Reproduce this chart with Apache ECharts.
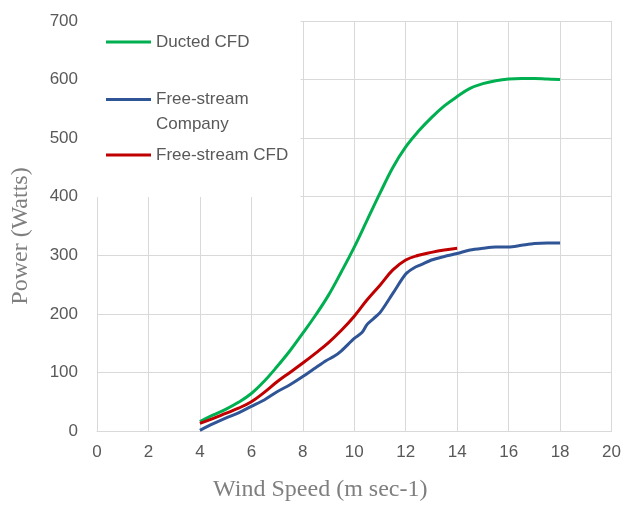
<!DOCTYPE html>
<html>
<head>
<meta charset="utf-8">
<script src="https://cdn.jsdelivr.net/npm/echarts@6/dist/echarts.min.js"></script>
<style>
html,body{margin:0;padding:0;background:#fff;}
#chart{width:624px;height:507px;}
</style>
</head>
<body>
<div id="chart"></div>
<script>
// ---- data ----
var seriesNames = ['Ducted CFD', 'Free-stream Company', 'Free-stream CFD'];

var ductedX = [4, 4.5, 5, 5.5, 6, 6.5, 7, 7.5, 8, 8.5, 9, 9.5, 10, 10.5, 11, 11.5, 12, 12.5, 13, 13.5, 14, 14.5, 15, 15.5, 16, 16.5, 17, 17.5, 18];
var ductedY = [16, 27, 37, 49, 64, 85, 110, 137, 167, 198, 232, 272, 314, 360, 406, 450, 485, 512, 535, 555, 571, 585, 593, 598, 601, 602, 602, 601, 600];

var companyX = [4, 4.5, 5, 5.5, 6, 6.5, 7, 7.5, 8, 8.5, 8.9, 9.2, 9.5, 10, 10.3, 10.5, 10.75, 11, 11.5, 12, 12.3, 12.6, 13, 13.5, 14, 14.5, 15, 15.5, 16, 16.5, 17, 17.5, 18];
var companyY = [1, 12, 22, 31, 42, 53, 67, 79, 93, 108, 120, 127, 137, 158, 168, 182, 192, 202, 235, 268, 278, 284, 292, 298, 303, 309, 312, 314, 314, 317, 320, 321, 321];

var freeCfdX = [4, 4.5, 5, 5.5, 6, 6.5, 7, 7.5, 8, 8.5, 9, 9.5, 10, 10.5, 11, 11.5, 12, 12.5, 13, 13.5, 14];
var freeCfdY = [13, 21, 30, 39, 50, 66, 84, 100, 116, 133, 151, 172, 196, 224, 249, 275, 292, 300, 305, 309, 312];

var xTicks = {min: 0, max: 20, interval: 2};
var yTicks = {min: 0, max: 700, interval: 100};

function pairs(xs, ys) {
  return xs.map(function (x, i) { return [x, ys[i]]; });
}

var chart = echarts.init(document.getElementById('chart'), null, {renderer: 'canvas'});

var labelFont = {fontFamily: '"Liberation Sans", Arial, sans-serif', fontSize: 17, color: '#595959'};
var titleFont = {fontFamily: '"Liberation Serif", "Times New Roman", serif', fontSize: 24, color: '#7f7f7f'};
var gridColor = '#d9d9d9';

var legendBase = {
  orient: 'vertical',
  icon: 'rect',
  itemWidth: 45,
  itemHeight: 3,
  itemGap: 0,
  selectedMode: false,
  textStyle: {fontFamily: labelFont.fontFamily, fontSize: 17, color: '#595959', lineHeight: 20}
};

var option = {
  animation: false,
  backgroundColor: '#fff',
  grid: {left: 97, right: 12, top: 21, bottom: 76, containLabel: false},
  xAxis: {
    type: 'value',
    min: xTicks.min, max: xTicks.max, interval: xTicks.interval,
    name: 'Wind Speed (m sec-1)',
    nameLocation: 'middle',
    nameGap: 47,
    nameTextStyle: Object.assign({padding: [0, 68, 0, 0]}, titleFont),
    axisLine: {show: true, lineStyle: {color: gridColor, width: 1}},
    axisTick: {show: false},
    axisLabel: Object.assign({margin: 13}, labelFont),
    splitLine: {show: true, lineStyle: {color: gridColor, width: 1}}
  },
  yAxis: {
    type: 'value',
    min: yTicks.min, max: yTicks.max, interval: yTicks.interval,
    name: 'Power (Watts)',
    nameLocation: 'middle',
    nameGap: 64,
    nameTextStyle: Object.assign({padding: [0, 20, 0, 0]}, titleFont),
    axisLine: {show: false},
    axisTick: {show: false},
    axisLabel: Object.assign({margin: 19}, labelFont),
    splitLine: {show: true, lineStyle: {color: gridColor, width: 1}}
  },
  legend: [
    Object.assign({}, legendBase, {
      data: [seriesNames[0]],
      left: 97, top: 21,
      padding: [11, 51, 145, 9],
      backgroundColor: '#ffffff',
      z: 4
    }),
    Object.assign({}, legendBase, {
      data: [seriesNames[1]],
      left: 106, top: 62,
      padding: 0,
      z: 5,
      formatter: function () { return '\nFree-stream\nCompany'; },
      textStyle: Object.assign({}, legendBase.textStyle, {lineHeight: 25})
    }),
    Object.assign({}, legendBase, {
      data: [seriesNames[2]],
      left: 106, top: 145,
      padding: 0,
      z: 5
    })
  ],
  series: [
    {name: seriesNames[0], type: 'line', data: pairs(ductedX, ductedY), smooth: 0.4, showSymbol: false, symbol: 'none',
     lineStyle: {color: '#00B050', width: 3}, itemStyle: {color: '#00B050'}},
    {name: seriesNames[1], type: 'line', data: pairs(companyX, companyY), smooth: 0.3, showSymbol: false, symbol: 'none',
     lineStyle: {color: '#2F5597', width: 3}, itemStyle: {color: '#2F5597'}},
    {name: seriesNames[2], type: 'line', data: pairs(freeCfdX, freeCfdY), smooth: 0.4, showSymbol: false, symbol: 'none',
     lineStyle: {color: '#C00000', width: 3}, itemStyle: {color: '#C00000'}}
  ]
};

chart.setOption(option);
</script>
</body>
</html>
